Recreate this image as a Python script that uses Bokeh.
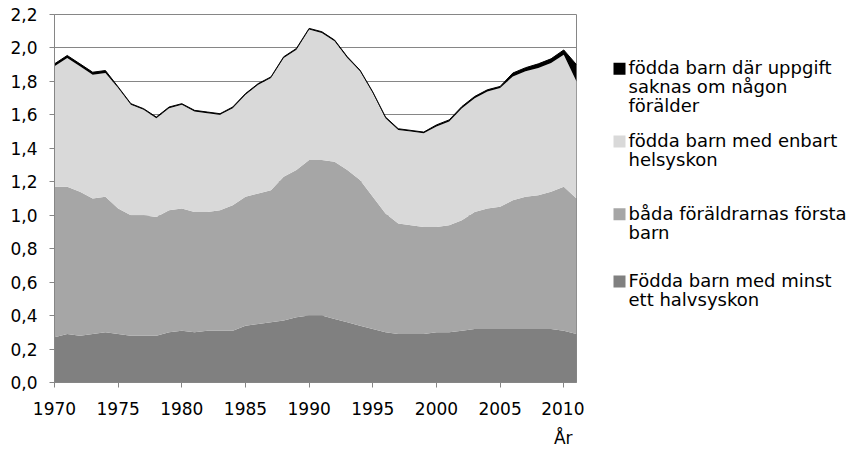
from bokeh.plotting import figure
from bokeh.models import ColumnDataSource, Range1d, FixedTicker, CustomJSTickFormatter, Title
from bokeh.layouts import row
from bokeh.embed import file_html
from bokeh.resources import INLINE
from bokeh.core.properties import value

years = list(range(1970, 2012))

halvsyskon = [0.27, 0.29, 0.28, 0.29, 0.30, 0.29, 0.28, 0.28, 0.28, 0.30,
              0.31, 0.30, 0.31, 0.31, 0.31, 0.34, 0.35, 0.36, 0.37, 0.39,
              0.40, 0.40, 0.38, 0.36, 0.34, 0.32, 0.30, 0.29, 0.29, 0.29,
              0.30, 0.30, 0.31, 0.32, 0.32, 0.32, 0.32, 0.32, 0.32, 0.32,
              0.31, 0.29]
forsta_barn = [0.90, 0.88, 0.86, 0.81, 0.81, 0.75, 0.72, 0.72, 0.71, 0.73,
               0.73, 0.72, 0.71, 0.72, 0.75, 0.77, 0.78, 0.79, 0.86, 0.88,
               0.93, 0.93, 0.94, 0.91, 0.87, 0.79, 0.71, 0.66, 0.65, 0.64,
               0.63, 0.64, 0.66, 0.70, 0.72, 0.73, 0.77, 0.79, 0.80, 0.82,
               0.86, 0.81]
helsyskon = [0.72, 0.77, 0.75, 0.74, 0.74, 0.72, 0.66, 0.63, 0.59, 0.61,
             0.62, 0.60, 0.59, 0.57, 0.58, 0.61, 0.65, 0.67, 0.71, 0.72,
             0.78, 0.76, 0.72, 0.67, 0.65, 0.62, 0.57, 0.56, 0.56, 0.56,
             0.60, 0.62, 0.67, 0.68, 0.70, 0.71, 0.74, 0.75, 0.76, 0.77,
             0.79, 0.70]
saknas = [0.015] * 5 + [0.007] * 25 + [0.010] * 6 + [0.020, 0.022, 0.025, 0.025, 0.028, 0.100]

y_ticks = [0.0, 0.2, 0.4, 0.6, 0.8, 1.0, 1.2, 1.4, 1.6, 1.8, 2.0, 2.2]
x_ticks = [1970, 1975, 1980, 1985, 1990, 1995, 2000, 2005, 2010]
x_title = "År"

series_keys = ["halvsyskon", "forsta_barn", "helsyskon", "saknas"]
series_colors = ["#808080", "#a6a6a6", "#d9d9d9", "#000000"]

legend_labels = [
    ["födda barn där uppgift", "saknas om någon", "förälder"],
    ["födda barn med enbart", "helsyskon"],
    ["båda föräldrarnas första", "barn"],
    ["Födda barn med minst", "ett halvsyskon"],
]
legend_colors = ["#000000", "#d9d9d9", "#a6a6a6", "#808080"]

total = [a + b + c + d for a, b, c, d in zip(halvsyskon, forsta_barn, helsyskon, saknas)]
src = ColumnDataSource(dict(year=years, halvsyskon=halvsyskon, forsta_barn=forsta_barn,
                            helsyskon=helsyskon, saknas=saknas, total=total))

FONT = "DejaVu Sans"
GRAY = "#868686"
H = 455

p = figure(width=584, height=H, output_backend="svg", toolbar_location=None,
           x_range=Range1d(1970, 2011), y_range=Range1d(0, 2.2),
           min_border_left=54, min_border_right=8, min_border_top=14, min_border_bottom=72)
p.varea_stack(stackers=series_keys, x="year", color=series_colors, source=src)
p.line(x="year", y="total", source=src, line_color="#000000", line_width=1)

p.xgrid.visible = False
p.ygrid.grid_line_color = GRAY
p.ygrid.grid_line_width = 1
p.outline_line_color = GRAY
p.outline_line_width = 1
p.background_fill_color = "white"
p.border_fill_color = "white"

p.yaxis.ticker = FixedTicker(ticks=y_ticks)
p.yaxis.formatter = CustomJSTickFormatter(code="return tick.toFixed(1).replace('.', ',');")
p.xaxis.ticker = FixedTicker(ticks=x_ticks)
for ax in (p.xaxis, p.yaxis):
    ax.axis_line_color = GRAY
    ax.major_tick_line_color = GRAY
    ax.major_tick_out = 5
    ax.major_tick_in = 0
    ax.minor_tick_line_color = None
    ax.major_label_text_font = FONT
    ax.major_label_text_font_size = "17px"
    ax.major_label_text_color = "#000000"
p.xaxis.major_label_standoff = 14
p.yaxis.major_label_standoff = 12

p.add_layout(Title(text=x_title, align="right", offset=4, standoff=16,
                   text_font=FONT, text_font_size="17px", text_font_style="normal",
                   text_color="#000000"), "below")

# legend as a separate panel in pixel coordinates
LW = 863 - 584
leg = figure(width=LW, height=H, output_backend="svg", toolbar_location=None,
             x_range=Range1d(0, LW), y_range=Range1d(H, 0),
             x_axis_type=None, y_axis_type=None, min_border=0)
leg.outline_line_color = None
leg.background_fill_color = "white"
leg.border_fill_color = "white"

entry_tops = [66, 156, 246, 329]
line_step = 23.5
sq_x, sq_size, txt_x = 35, 12, 44
tx, ty, tt = [], [], []
for top, lines in zip(entry_tops, legend_labels):
    for i, t in enumerate(lines):
        tx.append(txt_x)
        ty.append(top + i * line_step)
        tt.append(t)
leg.rect(x=[sq_x] * 4, y=[t + 1 for t in entry_tops], width=sq_size, height=sq_size,
         width_units="screen", height_units="screen", fill_color=legend_colors, line_color=None)
leg.text(x=tx, y=ty, text=tt, text_font=value(FONT), text_font_size="18px",
         text_baseline="middle", text_align="left", text_color="#000000")

layout = row(p, leg, spacing=0)
open("out.html", "w").write(file_html(layout, INLINE))
